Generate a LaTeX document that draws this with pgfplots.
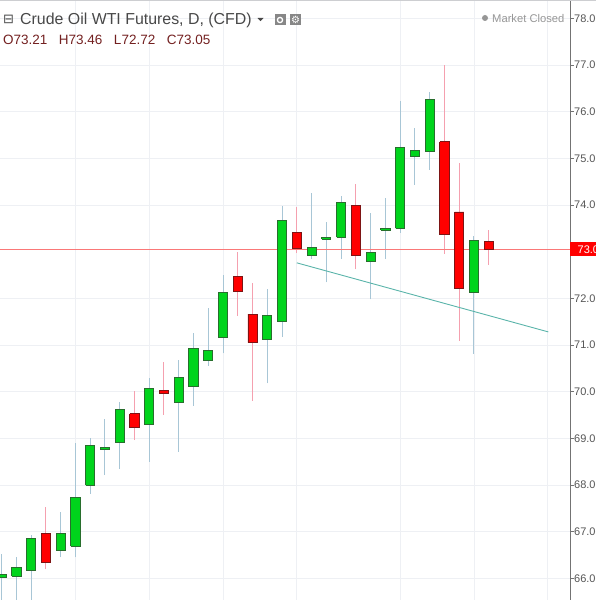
\documentclass[border=0pt]{standalone}
\usepackage{fontspec}
\setmainfont{Liberation Sans}
\newfontfamily\dejavu{DejaVu Sans}
\usepackage{pgfplots}
\pgfplotsset{compat=1.18}
\definecolor{bodyg}{RGB}{0,212,28}
\definecolor{bordg}{RGB}{40,110,45}
\definecolor{bodyr}{RGB}{255,0,0}
\definecolor{bordr}{RGB}{125,20,20}
\definecolor{wickg}{RGB}{168,198,214}
\definecolor{wickr}{RGB}{245,160,175}
\definecolor{trendc}{RGB}{90,180,170}
\definecolor{pricec}{RGB}{250,120,120}
\definecolor{gridc}{RGB}{238,240,244}
\definecolor{axisc}{RGB}{115,115,115}
\definecolor{tickc}{RGB}{85,85,85}
\definecolor{titlec}{RGB}{72,72,72}
\definecolor{ohlcc}{RGB}{115,32,32}
\definecolor{mutedc}{RGB}{150,150,150}
\definecolor{iconc}{RGB}{135,135,135}
\begin{document}
\begin{tikzpicture}
\useasboundingbox (0pt,0pt) rectangle (596pt,600pt);
\begin{axis}[
  at={(0pt,0pt)}, anchor=south west,
  scale only axis, width=570pt, height=600pt,
  xmin=-0.110, xmax=38.508, ymin=65.536, ymax=78.392,
  axis line style={draw=none},
  xtick=\empty,
  ytick={66,67,68,69,70,71,72,74,75,76,77,78}, ymajorgrids,
  major tick length=4pt, tick align=outside,
  ytick pos=right, yticklabel pos=right,
  y tick style={draw=axisc, line width=0.8pt},
  grid style={draw=gridc, line width=0.8pt},
  yticklabel style={font=\fontsize{11}{13}\selectfont, text=tickc, anchor=west, inner sep=0pt},
  /pgf/number format/.cd, fixed, fixed zerofill, precision=2, assume math mode=true,
  /pgfplots/.cd,
  clip mode=individual,
]
% vertical grid lines at week starts
\addplot[gridc, line width=0.8pt, unbounded coords=jump, mark=none] coordinates {
(5,65.536) (5,78.392) (5,nan)
(10,65.536) (10,78.392) (10,nan)
(15,65.536) (15,78.392) (15,nan)
(20,65.536) (20,78.392) (20,nan)
(27,65.536) (27,78.392) (27,nan)
(32,65.536) (32,78.392) (32,nan)
(37,65.536) (37,78.392)
};
% wicks of rising candles
\addplot[wickg, line width=1pt, unbounded coords=jump, mark=none] coordinates {
(0,65.30) (0,66.53) (0,nan)
(1,65.40) (1,66.46) (1,nan)
(2,65.40) (2,66.93) (2,nan)
(4,66.45) (4,67.42) (4,nan)
(5,66.45) (5,68.89) (5,nan)
(6,67.81) (6,69.01) (6,nan)
(7,68.21) (7,69.41) (7,nan)
(8,68.34) (8,69.77) (8,nan)
(10,68.50) (10,70.29) (10,nan)
(12,68.71) (12,70.68) (12,nan)
(13,69.70) (13,71.26) (13,nan)
(14,70.55) (14,71.79) (14,nan)
(15,70.82) (15,72.51) (15,nan)
(18,70.18) (18,72.19) (18,nan)
(19,71.18) (19,73.98) (19,nan)
(21,72.84) (21,74.26) (21,nan)
(22,72.34) (22,73.64) (22,nan)
(23,72.85) (23,74.19) (23,nan)
(25,71.98) (25,73.82) (25,nan)
(26,72.84) (26,74.16) (26,nan)
(27,73.41) (27,76.23) (27,nan)
(28,74.43) (28,75.64) (28,nan)
(29,74.75) (29,76.42) (29,nan)
(32,70.81) (32,73.34)
};
% wicks of falling candles
\addplot[wickr, line width=1pt, unbounded coords=jump, mark=none] coordinates {
(3,66.19) (3,67.53) (3,nan)
(9,68.96) (9,70.01) (9,nan)
(11,69.50) (11,70.63) (11,nan)
(16,71.63) (16,73.00) (16,nan)
(17,69.81) (17,72.32) (17,nan)
(20,72.97) (20,73.96) (20,nan)
(24,72.62) (24,74.46) (24,nan)
(30,72.96) (30,76.99) (30,nan)
(31,71.09) (31,74.89) (31,nan)
(33,72.72) (33,73.46)
};
% last price line
\addplot[color=pricec, line width=1pt, mark=none] coordinates {(-0.110,73.05) (38.508,73.05)};
% bodies of rising candles (open, close)
\addplot[fill=bodyg, draw=bordg, line width=0.9pt, unbounded coords=jump, mark=none] coordinates {
(-0.31,66.02) (0.31,66.02) (0.31,66.08) (-0.31,66.08) (-0.31,66.02) (0,nan)
(0.69,66.04) (1.31,66.04) (1.31,66.23) (0.69,66.23) (0.69,66.04) (1,nan)
(1.69,66.16) (2.31,66.16) (2.31,66.86) (1.69,66.86) (1.69,66.16) (2,nan)
(3.69,66.59) (4.31,66.59) (4.31,66.97) (3.69,66.97) (3.69,66.59) (4,nan)
(4.69,66.69) (5.31,66.69) (5.31,67.74) (4.69,67.74) (4.69,66.69) (5,nan)
(5.69,68.00) (6.31,68.00) (6.31,68.84) (5.69,68.84) (5.69,68.00) (6,nan)
(6.69,68.76) (7.31,68.76) (7.31,68.81) (6.69,68.81) (6.69,68.76) (7,nan)
(7.69,68.92) (8.31,68.92) (8.31,69.62) (7.69,69.62) (7.69,68.92) (8,nan)
(9.69,69.29) (10.31,69.29) (10.31,70.07) (9.69,70.07) (9.69,69.29) (10,nan)
(11.69,69.76) (12.31,69.76) (12.31,70.30) (11.69,70.30) (11.69,69.76) (12,nan)
(12.69,70.11) (13.31,70.11) (13.31,70.93) (12.69,70.93) (12.69,70.11) (13,nan)
(13.69,70.66) (14.31,70.66) (14.31,70.89) (13.69,70.89) (13.69,70.66) (14,nan)
(14.69,71.16) (15.31,71.16) (15.31,72.13) (14.69,72.13) (14.69,71.16) (15,nan)
(17.69,71.11) (18.31,71.11) (18.31,71.64) (17.69,71.64) (17.69,71.11) (18,nan)
(18.69,71.51) (19.31,71.51) (19.31,73.66) (18.69,73.66) (18.69,71.51) (19,nan)
(20.69,72.91) (21.31,72.91) (21.31,73.09) (20.69,73.09) (20.69,72.91) (21,nan)
(21.69,73.27) (22.31,73.27) (22.31,73.30) (21.69,73.30) (21.69,73.27) (22,nan)
(22.69,73.31) (23.31,73.31) (23.31,74.06) (22.69,74.06) (22.69,73.31) (23,nan)
(24.69,72.78) (25.31,72.78) (25.31,72.99) (24.69,72.99) (24.69,72.78) (25,nan)
(25.69,73.46) (26.31,73.46) (26.31,73.49) (25.69,73.49) (25.69,73.46) (26,nan)
(26.69,73.50) (27.31,73.50) (27.31,75.24) (26.69,75.24) (26.69,73.50) (27,nan)
(27.69,75.03) (28.31,75.03) (28.31,75.16) (27.69,75.16) (27.69,75.03) (28,nan)
(28.69,75.15) (29.31,75.15) (29.31,76.26) (28.69,76.26) (28.69,75.15) (29,nan)
(31.69,72.13) (32.31,72.13) (32.31,73.24) (31.69,73.24) (31.69,72.13)
};
% bodies of falling candles (open, close)
\addplot[fill=bodyr, draw=bordr, line width=0.9pt, unbounded coords=jump, mark=none] coordinates {
(2.69,66.96) (3.31,66.96) (3.31,66.33) (2.69,66.33) (2.69,66.96) (3,nan)
(8.69,69.53) (9.31,69.53) (9.31,69.23) (8.69,69.23) (8.69,69.53) (9,nan)
(10.69,70.02) (11.31,70.02) (11.31,69.96) (10.69,69.96) (10.69,70.02) (11,nan)
(15.69,72.46) (16.31,72.46) (16.31,72.15) (15.69,72.15) (15.69,72.46) (16,nan)
(16.69,71.66) (17.31,71.66) (17.31,71.05) (16.69,71.05) (16.69,71.66) (17,nan)
(19.69,73.42) (20.31,73.42) (20.31,73.06) (19.69,73.06) (19.69,73.42) (20,nan)
(23.69,73.99) (24.31,73.99) (24.31,72.91) (23.69,72.91) (23.69,73.99) (24,nan)
(29.69,75.36) (30.31,75.36) (30.31,73.37) (29.69,73.37) (29.69,75.36) (30,nan)
(30.69,73.85) (31.31,73.85) (31.31,72.21) (30.69,72.21) (30.69,73.85) (31,nan)
(32.69,73.21) (33.31,73.21) (33.31,73.05) (32.69,73.05) (32.69,73.21)
};
% trend line
\addplot[trendc, line width=0.9pt, mark=none] coordinates {(20.0,72.76) (37.04,71.28)};
% right price axis line
\draw[axisc, line width=0.8pt] (rel axis cs:1,0) -- (rel axis cs:1,1);
% last price label
\node[fill=bodyr, text=white, anchor=west, inner xsep=7.5pt, inner ysep=0pt, minimum height=14pt,
      font=\fontsize{11}{13}\selectfont] at (axis cs:38.508,73.05) {73.05};
\end{axis}
% top frame line
\draw[gridc!70!gray, line width=0.6pt] (0pt,599.6pt) -- (596pt,599.6pt);
% header
\node[anchor=center, inner sep=0pt, text=titlec, font=\dejavu\fontsize{13}{15}\selectfont] at (8.5pt,580.5pt) {⊟};
\node[anchor=base west, inner sep=0pt, text=titlec, font=\fontsize{15.9}{18}\selectfont] at (20pt,575pt) {Crude Oil WTI Futures, D, (CFD)};
\fill[titlec] (257.5pt,582pt) -- (263.5pt,582pt) -- (260.5pt,578.8pt) -- cycle;
\fill[iconc] (274.5pt,574.5pt) rectangle (285.5pt,585.5pt);
\draw[white, line width=1.3pt] (280pt,580pt) circle (2.6pt);
\fill[iconc] (290pt,574.5pt) rectangle (301pt,585.5pt);
\node[anchor=center, inner sep=0pt, text=white, font=\dejavu\fontsize{10}{12}\selectfont] at (295.5pt,580pt) {⚙};
\node[anchor=base west, inner sep=0pt, text=ohlcc, font=\fontsize{13.5}{16}\selectfont] at (3pt,555pt) {O73.21\hspace{11.5pt}H73.46\hspace{11.5pt}L72.72\hspace{11.5pt}C73.05};
\fill[mutedc] (485pt,582pt) circle (3pt);
\node[anchor=base west, inner sep=0pt, text=mutedc, font=\fontsize{11.2}{13}\selectfont] at (492pt,577.5pt) {Market Closed};
\end{tikzpicture}
\end{document}
